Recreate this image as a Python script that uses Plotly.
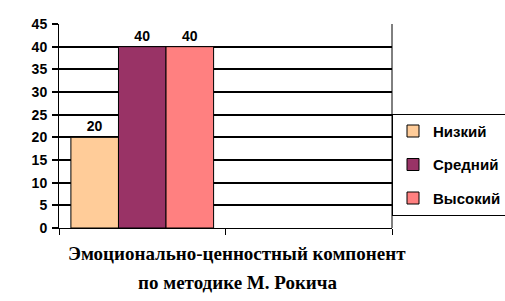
import plotly.graph_objects as go

series_names = ["Низкий", "Средний", "Высокий"]
series_values = [20, 40, 40]
series_colors = ["#FFCC99", "#993366", "#FF8080"]
y_ticks = [0, 5, 10, 15, 20, 25, 30, 35, 40, 45]
title_lines = ["Эмоционально-ценностный компонент", "по методике М. Рокича"]

fig = go.Figure()
for i, (name, val, col) in enumerate(zip(series_names, series_values, series_colors)):
    fig.add_trace(go.Bar(
        x=[0], y=[val], name=name, legendgroup=name,
        marker=dict(color=col, line=dict(color="black", width=1)),
        text=[str(val)], textposition="outside", cliponaxis=False,
        textfont=dict(family="Liberation Sans", size=14, color="black", weight="bold"),
    ))

fig.update_layout(
    width=505, height=301,
    margin=dict(l=59, r=113, t=24, b=73, autoexpand=False),
    paper_bgcolor="white", plot_bgcolor="white",
    barmode="group", bargap=0.143, bargroupgap=0,
    font=dict(family="Liberation Sans", color="black"),
    showlegend=True,
    legend=dict(
        x=1.0, y=0.56, xanchor="left", yanchor="top",
        bordercolor="black", borderwidth=1, bgcolor="white",
        font=dict(family="Liberation Sans", size=15, color="black", weight="bold"),
        tracegroupgap=11, itemwidth=30,
    ),
    xaxis=dict(
        range=[-0.5, 1.5], tickvals=[-0.5, 0.5, 1.5], ticktext=["", "", ""],
        ticks="outside", ticklen=6, tickcolor="black", tickwidth=1,
        showline=True, linecolor="black", linewidth=1, showgrid=False, zeroline=False,
    ),
    yaxis=dict(
        range=[0, 45], tickvals=y_ticks,
        ticks="outside", ticklen=6, tickcolor="black", tickwidth=2,
        showline=True, linecolor="black", linewidth=1,
        showgrid=True, gridcolor="black", gridwidth=2, zeroline=False,
        tickfont=dict(family="Liberation Sans", size=14, color="black", weight="bold"),
        ticklabelstandoff=2,
    ),
)
for line_text, yp in zip(title_lines, [-0.127, -0.265]):
    fig.add_annotation(
        text=line_text, xref="paper", yref="paper", x=0.535, y=yp,
        xanchor="center", yanchor="middle", showarrow=False,
        font=dict(family="Liberation Serif", size=19, color="black", weight="bold"),
    )
# right border of plot area
fig.add_shape(type="line", xref="x domain", yref="y domain", x0=1, x1=1, y0=0, y1=1,
              line=dict(color="black", width=1))

fig.write_html("out.html")
